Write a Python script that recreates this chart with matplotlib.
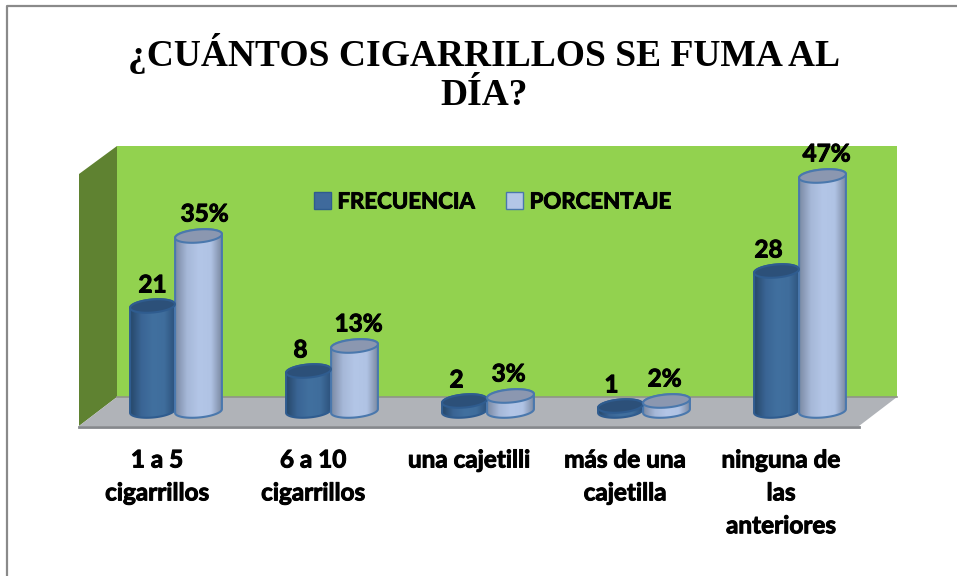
import numpy as np
import matplotlib
matplotlib.use('Agg')
import matplotlib.pyplot as plt
import matplotlib.patheffects as pe
from matplotlib.colors import LinearSegmentedColormap
from matplotlib.patches import Polygon, Patch

# Chart values
categories = ['1 a 5\ncigarrillos', '6 a 10\ncigarrillos', 'una cajetilli',
              'más de una\ncajetilla', 'ninguna de\nlas\nanteriores']
frecuencia = [21, 8, 2, 1, 28]
porcentaje = [35, 13, 3, 2, 47]
title = '¿CUÁNTOS CIGARRILLOS SE FUMA AL\nDÍA?'

W, H = 957, 576
fig = plt.figure(figsize=(W / 100, H / 100), dpi=100, facecolor='white')

# Labels are Calibri bold in the original, Lato with a thin stroke comes close
heavy = [pe.withStroke(linewidth=0.7, foreground='black')]

# Background axes in pixel units, for the frame and the 3D walls
bg = fig.add_axes([0, 0, 1, 1])
bg.set_xlim(0, W)
bg.set_ylim(H, 0)
bg.axis('off')
bg.plot([7, 7, W], [H, 6, 6], color='#8a8a8a', lw=1.6)
bg.add_patch(Polygon([(117, 146), (897, 146), (897, 397), (117, 397)], fc='#92d24f', ec='none'))
bg.add_patch(Polygon([(117, 146), (79, 174), (79, 426), (117, 397)], fc='#5f8231', ec='none'))
bg.add_patch(Polygon([(117, 397), (897, 397), (859, 426), (79, 426)], fc='#b0b3b8', ec='none'))
bg.plot([117, 897], [397, 397], color='#8f9488', lw=1.2)
bg.plot([79, 859], [427, 427], color='#85888c', lw=2)
bg.text(484, 73, title, ha='center', va='center', family='Liberation Serif',
        weight='bold', fontsize=27, linespacing=1.17, color='black')

# Data axes: 156 px per category, 5 px per value unit
x0, x1, y0, y1 = 97, 877, 411, 161
ax = fig.add_axes([x0 / W, 1 - y0 / H, (x1 - x0) / W, (y0 - y1) / H])
ax.patch.set_alpha(0)
for s in ax.spines.values():
    s.set_visible(False)
px_x = (x1 - x0) / 5
px_y = (y0 - y1) / 50

dark_cm = LinearSegmentedColormap.from_list('d', ['#264769', '#3a6595', '#41709f', '#3f6d9c', '#2b5079'])
light_cm = LinearSegmentedColormap.from_list('l', ['#7a89a3', '#a6b8d8', '#b3c6e7', '#b0c3e4', '#76849c'])
grad = np.linspace(0, 1, 128).reshape(1, -1)


def ellipse(cx, cy, t, a, b=6.5, phi=np.radians(5)):
    # tilted ellipse in pixels, turned back into data units
    dx = a * np.cos(t) * np.cos(phi) - b * np.sin(t) * np.sin(phi)
    dy = a * np.cos(t) * np.sin(phi) + b * np.sin(t) * np.cos(phi)
    return np.column_stack([cx + dx / px_x, cy + dy / px_y])


def cylinder(cx, value, radius, cmap, top_color, edge):
    t_up = np.linspace(0, np.pi, 40)
    t_low = np.linspace(np.pi, 2 * np.pi, 40)
    body_pts = np.vstack([ellipse(cx, 0, t_low, radius), ellipse(cx, value, t_up, radius)])
    body = Polygon(body_pts, fc='none', ec=edge, lw=1.5, zorder=3, clip_on=False)
    half = (radius + 0.5) / px_x
    im = ax.imshow(grad, extent=[cx - half, cx + half, -5, value + 5], aspect='auto',
                   cmap=cmap, zorder=2)
    ax.add_patch(body)
    im.set_clip_path(body)
    im.set_clip_box(fig.bbox)
    ax.add_patch(Polygon(ellipse(cx, value, np.linspace(0, 2 * np.pi, 80), radius),
                         fc=top_color, ec=edge, lw=1.5, zorder=4, clip_on=False))


offset_l = 22.5 / px_x
offset_r = 23.5 / px_x
left_dx = [0, -8, -8, -9, -8]
right_dx = [6, 4, -2, -2, 4]
label_kw = dict(textcoords='offset pixels', ha='center', va='center', family='Lato',
                weight='bold', fontsize=17.5, color='black', zorder=6, annotation_clip=False,
                path_effects=heavy)
for i in range(len(categories)):
    cylinder(i - offset_l, frecuencia[i], 22.5, dark_cm, '#2c5079', '#2f5c8f')
    cylinder(i + offset_r, porcentaje[i], 23.5, light_cm, '#8b97b0', '#4a78ad')
    ax.annotate(str(frecuencia[i]), (i - offset_l, frecuencia[i]), xytext=(left_dx[i], 21), **label_kw)
    ax.annotate(f'{porcentaje[i]}%', (i + offset_r, porcentaje[i]), xytext=(right_dx[i], 22), **label_kw)

ax.set_xlim(-0.5, 4.5)
ax.set_ylim(0, 50)
ax.set_yticks([])
ax.set_xticks(np.arange(len(categories)) - 0.115)
ax.set_xticklabels(categories, family='Lato', weight='bold', fontsize=17.5, linespacing=1.52,
                   path_effects=heavy)
ax.tick_params(axis='x', length=0, pad=27)

handles = [Patch(fc='#3f6a9c', ec='#2f5c8f', label='FRECUENCIA'),
           Patch(fc='#b3c6e7', ec='#4a78ad', label='PORCENTAJE')]
leg = ax.legend(handles=handles, ncol=2, frameon=False, loc='center',
                bbox_to_anchor=(492.5 / W, 1 - 202 / H), bbox_transform=fig.transFigure,
                prop={'family': 'Lato', 'weight': 'bold', 'size': 16},
                handlelength=0.77, handleheight=0.77, handletextpad=0.3, columnspacing=1.4)
for t in leg.get_texts():
    t.set_path_effects(heavy)

fig.savefig('out.png', dpi=100)
